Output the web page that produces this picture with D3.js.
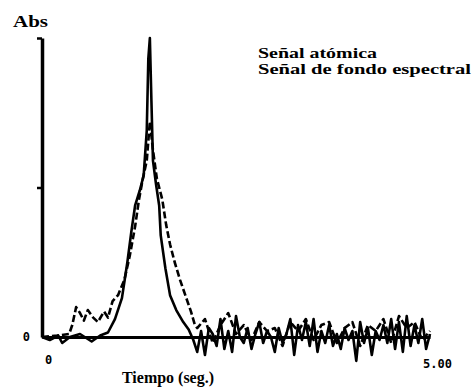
<!DOCTYPE html>
<html>
<head>
<meta charset="utf-8">
<script src="https://cdn.jsdelivr.net/npm/d3@7"></script>
<style>
  html, body { margin: 0; padding: 0; background: #fff; }
  svg { display: block; }
</style>
</head>
<body>
<svg id="chart" width="474" height="390"></svg>
<script>
// ---- data (time in seconds, absorbance in relative units) ----
const legendLabels = ["Señal atómica", "Señal de fondo espectral"];
const yTickValues = [0, 0.5, 1];
const xTickValues = [0, 5];
const xTickLabels = ["0", "5.00"];

const tAtomica = [0, 0.10, 0.21, 0.26, 0.36, 0.49, 0.64, 0.75, 0.85, 0.94, 1.03, 1.10, 1.15, 1.20, 1.26, 1.31, 1.35, 1.37, 1.39, 1.41, 1.43, 1.47, 1.51, 1.53, 1.59, 1.65, 1.73, 1.82, 1.89, 1.95,
  2.00, 2.05, 2.10, 2.15, 2.20, 2.25, 2.30, 2.35, 2.40, 2.45, 2.50, 2.55, 2.60, 2.65, 2.70, 2.75, 2.80, 2.85, 2.90, 2.95,
  3.00, 3.05, 3.10, 3.15, 3.20, 3.25, 3.30, 3.35, 3.40, 3.45, 3.50, 3.55, 3.60, 3.65, 3.70, 3.75, 3.80, 3.85, 3.90, 3.95,
  4.00, 4.05, 4.10, 4.15, 4.20, 4.25, 4.30, 4.35, 4.40, 4.45, 4.50, 4.55, 4.60, 4.65, 4.70, 4.75, 4.80, 4.85, 4.90, 4.95, 5.00];
const absAtomica = [0, -0.01, 0.005, -0.02, 0, 0.01, -0.015, 0.005, 0.015, 0.06, 0.13, 0.25, 0.35, 0.44, 0.49, 0.54, 0.69, 0.93, 1.0, 0.79, 0.59, 0.51, 0.44, 0.34, 0.23, 0.14, 0.09, 0.05, 0.025, -0.01,
  -0.05, 0.02, -0.06, 0.03, 0.01, -0.03, 0.06, -0.04, 0.02, -0.05, 0.07, 0.0, -0.02, 0.03, -0.04, 0.01, 0.05, -0.02, 0.02, 0.0,
  -0.05, 0.03, -0.02, 0.01, 0.06, -0.06, 0.04, -0.01, 0.05, -0.03, 0.06, -0.05, 0.02, -0.02, 0.04, -0.03, 0.01, -0.04, 0.03, -0.01,
  0.02, -0.08, 0.05, -0.02, 0.03, -0.06, 0.02, -0.01, 0.04, -0.02, 0.06, -0.04, 0.05, -0.05, 0.07, -0.03, 0.04, -0.02, 0.06, -0.04, 0.01];

const tFondo = [0, 0.20, 0.35, 0.39, 0.44, 0.49, 0.54, 0.59, 0.66, 0.72, 0.80, 0.85, 0.91, 0.98, 1.06, 1.13, 1.20, 1.25, 1.30, 1.35, 1.39, 1.43, 1.48, 1.55, 1.60, 1.65, 1.71, 1.78, 1.86, 1.92, 1.97,
  2.0, 2.1, 2.2, 2.3, 2.4, 2.5, 2.6, 2.7, 2.8, 2.9, 3.0, 3.1, 3.2, 3.3, 3.4, 3.5, 3.6, 3.7, 3.8, 3.9, 4.0, 4.1, 4.2, 4.3, 4.4, 4.5, 4.6, 4.7, 4.8, 4.9, 5.0];
const absFondo = [0, 0.005, 0.01, 0.04, 0.10, 0.08, 0.055, 0.09, 0.065, 0.05, 0.085, 0.065, 0.12, 0.14, 0.19, 0.27, 0.37, 0.46, 0.53, 0.59, 0.72, 0.625, 0.53, 0.46, 0.375, 0.31, 0.25, 0.19, 0.13, 0.085, 0.04,
  0.03, 0.06, -0.02, 0.04, 0.08, 0.01, 0.04, -0.01, 0.05, 0.02, 0.03, -0.03, 0.05, 0.02, 0.06, -0.01, 0.04, 0.05, -0.02, 0.03, 0.05, -0.03, 0.04, 0.02, 0.06, -0.02, 0.07, 0.03, 0.05, -0.01, 0.02];

// ---- drawing ----
const svg = d3.select("#chart");
const x = d3.scaleLinear().domain([0, 5]).range([42, 430]);
const y = d3.scaleLinear().domain([0, 1]).range([337, 38]);

const serif = "'Liberation Serif', 'Times New Roman', serif";
const mono = "'DejaVu Sans Mono', monospace";

// Y axis
const yAxis = svg.append("g").attr("transform", `translate(${x(0)},0)`)
  .call(d3.axisLeft(y).tickValues(yTickValues).tickSize(5).tickSizeOuter(0).tickPadding(7)
    .tickFormat(d => d === 0 ? "0" : ""));
yAxis.select(".domain").attr("stroke", "#000").attr("stroke-width", 3.5);
yAxis.selectAll(".tick line").attr("stroke", "#000").attr("stroke-width", 2.5);
yAxis.selectAll(".tick").filter(d => d === 0).select("line").remove();
yAxis.selectAll(".tick text").attr("font-family", mono).attr("font-weight", "bold")
  .attr("font-size", 12).attr("fill", "#000");

// X axis
const xAxis = svg.append("g").attr("transform", `translate(0,${y(0)})`)
  .call(d3.axisBottom(x).tickValues(xTickValues).tickSize(0).tickSizeOuter(0)
    .tickFormat((d, i) => xTickLabels[i]));
xAxis.select(".domain").attr("stroke", "#000").attr("stroke-width", 3);
xAxis.selectAll(".tick text").attr("font-family", mono).attr("font-weight", "bold")
  .attr("font-size", 12).attr("fill", "#000")
  .attr("dx", (d, i) => i === 0 ? 6 : 7)
  .attr("y", (d, i) => i === 0 ? 27 : 31)
  .attr("dy", "0");

// Lines
const line = d3.line().x(d => x(d[0])).y(d => y(d[1]));
const atomicaData = tAtomica.map((t, i) => [t, absAtomica[i]]);
const fondoData = tFondo.map((t, i) => [t, absFondo[i]]);

svg.append("path").datum(fondoData)
  .attr("fill", "none").attr("stroke", "#000").attr("stroke-width", 2.6)
  .attr("stroke-dasharray", "7,3").attr("stroke-linejoin", "round")
  .attr("d", line);
svg.append("path").datum(atomicaData)
  .attr("fill", "none").attr("stroke", "#000").attr("stroke-width", 2.6)
  .attr("stroke-linejoin", "round")
  .attr("d", line);

// Texts
svg.append("text").attr("x", 13).attr("y", 27)
  .attr("font-family", serif).attr("font-weight", "bold").attr("font-size", 16)
  .attr("textLength", 35).attr("lengthAdjust", "spacingAndGlyphs").text("Abs");

const legendY = [58, 74];
const legendW = [119, 213];
svg.selectAll(".legend").data(legendLabels).join("text").attr("class", "legend")
  .attr("x", 258).attr("y", (d, i) => legendY[i])
  .attr("font-family", serif).attr("font-weight", "bold").attr("font-size", 14)
  .attr("textLength", (d, i) => legendW[i]).attr("lengthAdjust", "spacingAndGlyphs")
  .text(d => d);

svg.append("text").attr("x", 122).attr("y", 383)
  .attr("font-family", serif).attr("font-weight", "bold").attr("font-size", 16)
  .attr("textLength", 92).attr("lengthAdjust", "spacingAndGlyphs").text("Tiempo (seg.)");
</script>
</body>
</html>
